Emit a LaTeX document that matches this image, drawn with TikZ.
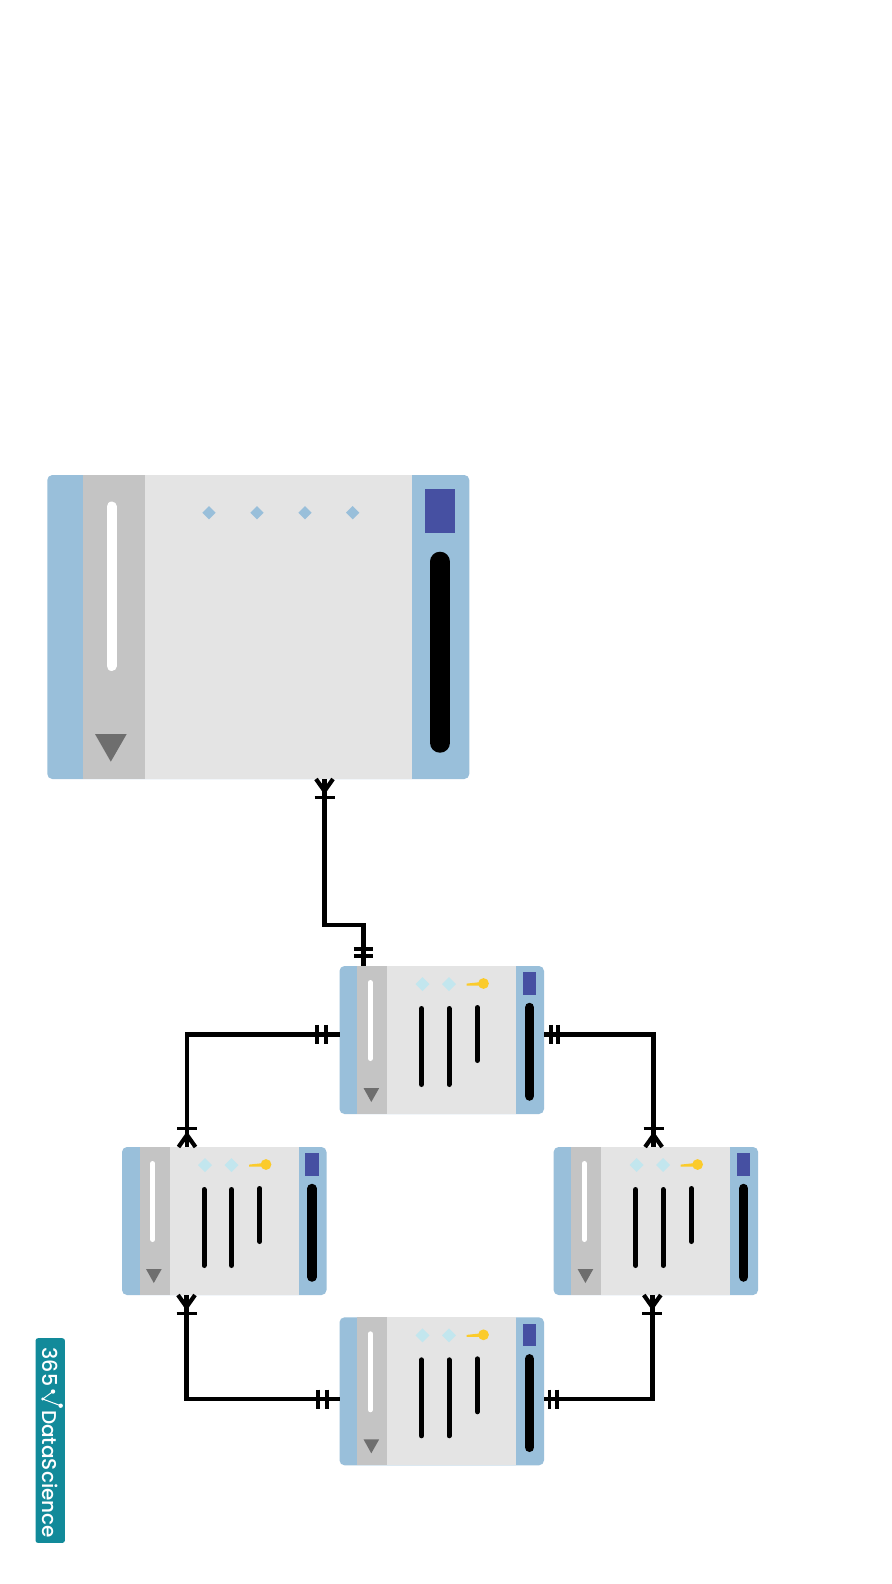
\documentclass[tikz,border=0pt]{standalone}
\usepackage{fontspec}
\usetikzlibrary{calc}
\setmainfont{Poppins Medium}
\definecolor{hdr}{HTML}{99BFDA}
\definecolor{strip}{HTML}{C4C4C4}
\definecolor{body}{HTML}{E4E4E4}
\definecolor{sq}{HTML}{4650A2}
\definecolor{tri}{HTML}{6E6E6E}
\definecolor{dia}{HTML}{C2E6EE}
\definecolor{keyc}{HTML}{FBCB2B}
\definecolor{logo}{HTML}{128A9A}
\tikzset{
  tbl/.style={fill=hdr,draw=none,rounded corners=5pt,minimum width=#1,inner sep=0pt,outer sep=0pt,anchor=north west},
  conn/.style={line width=4.4pt,line join=miter,draw=black},
  tick/.style={line width=3.8pt,draw=black},
  crow/.style={line width=4.2pt,draw=black},
  lbar/.style={line width=5pt,line cap=round,draw=black},
  logotext/.style={rotate=-90,text=white,inner sep=0pt,anchor=base west},
}
\newcommand{\smalltbl}[3]{%
  \node[tbl=204.5pt,minimum height=148pt] (#1) at (#2,#3) {};
  \begin{scope}[shift={(#2,#3)}]
    \fill[strip] (17.8,0) rectangle (47.8,148);
    \fill[body] (47.8,0) rectangle (176.5,148);
    \draw[line width=5pt,line cap=round,white] (30.8,16.5) -- (30.8,92.5);
    \fill[tri] (24,122) -- (39.7,122) -- (31.8,136) -- cycle;
    \foreach \dx in {83,109.5}
      \fill[dia] (\dx,11) -- (\dx+7,18) -- (\dx,25) -- (\dx-7,18) -- cycle;
    \fill[keyc] (127,17.6) -- (140,16.2) -- (140,19.6) -- (127,19.6) -- cycle;
    \fill[keyc] (144,17.5) circle (5.4);
    \draw[lbar] (82,42.5) -- (82,118.5);
    \draw[lbar] (109.5,42.5) -- (109.5,118.5);
    \draw[lbar] (137.8,41.5) -- (137.8,94.5);
    \fill[sq] (183.2,6.3) rectangle (196.8,28.7);
    \draw[line width=9.5pt,line cap=round,black] (190,41.5) -- (190,130);
  \end{scope}
}
\begin{document}
\begin{tikzpicture}[x=1pt,y=-1pt]
\useasboundingbox[fill=white] (0,0) rectangle (891,1584);
% large table
\node[tbl=422pt,minimum height=304pt] (big) at (47.3,475) {};
\begin{scope}[shift={(47.3,475)}]
  \fill[strip] (35.4,0) rectangle (97.7,304);
  \fill[body] (97.7,0) rectangle (364.7,304);
  \draw[line width=10pt,line cap=round,white] (64.3,31.5) -- (64.3,191);
  \fill[tri] (47.7,259) -- (79.4,259) -- (63.5,286.7) -- cycle;
  \foreach \dx in {161.7,209.7,257.7,305.4}
    \fill[hdr] (\dx,31) -- (\dx+6.7,37.7) -- (\dx,44.4) -- (\dx-6.7,37.7) -- cycle;
  \fill[sq] (378,14) rectangle (407.4,58.3);
  \draw[line width=20pt,line cap=round,black] (392.7,86.7) -- (392.7,267.7);
\end{scope}
\smalltbl{top}{339.5}{966}
\smalltbl{lft}{122}{1147}
\smalltbl{rgt}{553.6}{1147}
\smalltbl{bot}{339.5}{1317.3}
% connector ends
\coordinate (a1) at (324.5,779);
\coordinate (a2) at (363.3,966);
\coordinate (b1) at (339.5,1034.3);
\coordinate (b2) at (187,1147);
\coordinate (c1) at (544,1034.3);
\coordinate (c2) at (653.6,1147);
\coordinate (d1) at (339.5,1399);
\coordinate (d2) at (186.5,1295);
\coordinate (e1) at (544,1399);
\coordinate (e2) at (652.3,1295);
\coordinate (amid) at (324.5,925);
\draw[conn] (a1) -- (amid) -| (a2);
\draw[conn] (b1) -| (b2);
\draw[conn] (c1) -| (c2);
\draw[conn] (d1) -| (d2);
\draw[conn] (e1) -| (e2);
% crow's feet
\foreach \p/\s in {a1/1,d2/1,e2/1,b2/-1,c2/-1}{
  \draw[crow] ($(\p)+(-8.5,0)$) -- ($(\p)+(0,\s*12)$) -- ($(\p)+(8.5,0)$);
  \draw[tick] ($(\p)+(-10,\s*18.5)$) -- ($(\p)+(10,\s*18.5)$);
}
% double ticks
\foreach \d in {-16.7,-10}
  \draw[tick] ($(a2)+(-9.5,\d)$) -- ($(a2)+(9.5,\d)$);
\foreach \p/\d in {b1/-22.8,b1/-13.5,d1/-21.5,d1/-12.8,c1/6.7,c1/14.3,e1/5.5,e1/12.7}
  \draw[tick] ($(\p)+(\d,-9.5)$) -- ($(\p)+(\d,9.5)$);
% logo
\node[fill=logo,rounded corners=2.5pt,minimum width=29.4pt,minimum height=204.7pt,inner sep=0pt,anchor=north west] (logobox) at (35.3,1338) {};
\node[logotext,font=\fontsize{20.5}{21}\selectfont] (n365) at (42.7,1347.5) {365};
\node[logotext,font=\fontsize{20}{20}\selectfont] (ds) at (42.7,1410) {DataScience};
\coordinate (i1) at (53,1391.5);
\coordinate (i2) at (42.7,1399);
\coordinate (i3) at (60.7,1405.7);
\draw[white,line width=1pt] (i1) -- (i2) -- (i3);
\fill[white] (i1) circle (2.2) (i3) circle (2.2) (i2) circle (1.6);
\end{tikzpicture}
\end{document}
